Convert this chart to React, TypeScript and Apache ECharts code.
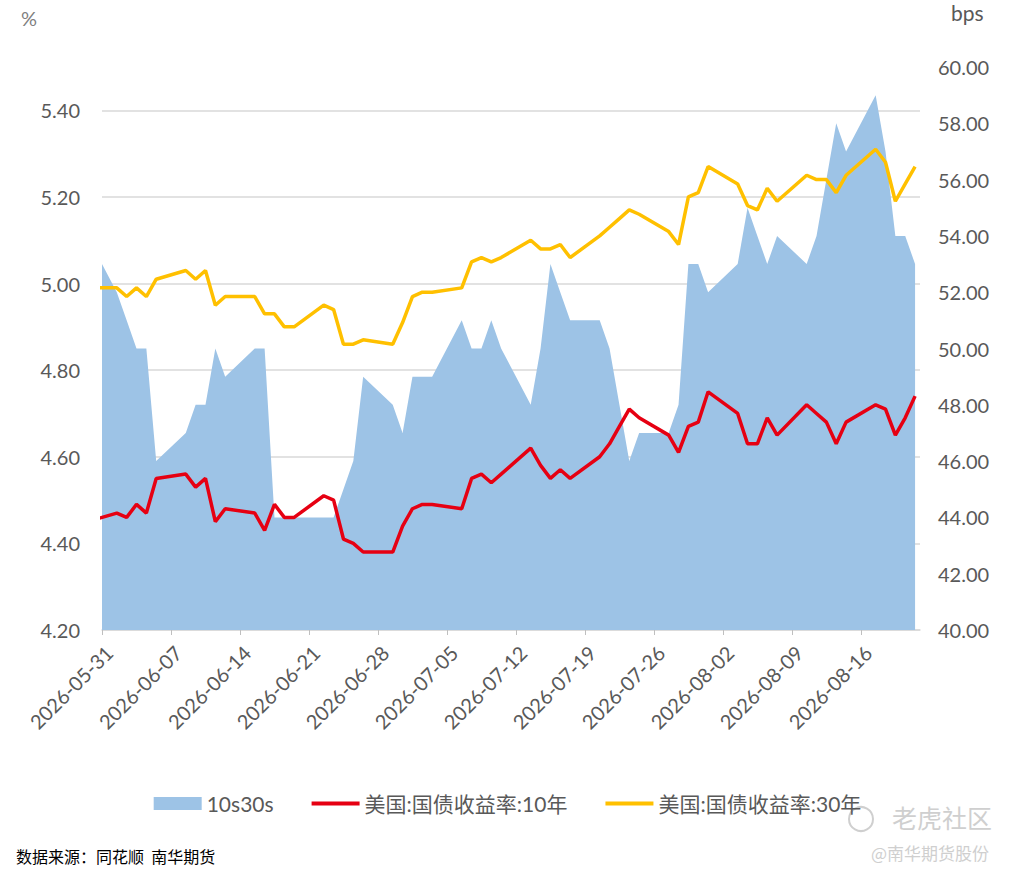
import React, { useEffect, useRef } from "react";
import * as echarts from "echarts";

const dates = [
  "2026-05-29",
  "2026-06-01", "2026-06-02", "2026-06-03", "2026-06-04", "2026-06-05",
  "2026-06-08", "2026-06-09", "2026-06-10", "2026-06-11", "2026-06-12",
  "2026-06-15", "2026-06-16", "2026-06-17", "2026-06-18", "2026-06-19",
  "2026-06-22", "2026-06-23", "2026-06-24", "2026-06-25", "2026-06-26",
  "2026-06-29", "2026-06-30", "2026-07-01", "2026-07-02", "2026-07-03",
  "2026-07-06", "2026-07-07", "2026-07-08", "2026-07-09", "2026-07-10",
  "2026-07-13", "2026-07-14", "2026-07-15", "2026-07-16", "2026-07-17",
  "2026-07-20", "2026-07-21", "2026-07-22", "2026-07-23", "2026-07-24",
  "2026-07-27", "2026-07-28", "2026-07-29", "2026-07-30", "2026-07-31",
  "2026-08-03", "2026-08-04", "2026-08-05", "2026-08-06", "2026-08-07",
  "2026-08-10", "2026-08-11", "2026-08-12", "2026-08-13", "2026-08-14",
  "2026-08-17", "2026-08-18", "2026-08-19", "2026-08-20", "2026-08-21",
];

const yield10 = [
  4.45,
  4.47, 4.46, 4.49, 4.47, 4.55,
  4.56, 4.53, 4.55, 4.45, 4.48,
  4.47, 4.43, 4.49, 4.46, 4.46,
  4.51, 4.50, 4.41, 4.40, 4.38,
  4.38, 4.44, 4.48, 4.49, 4.49,
  4.48, 4.55, 4.56, 4.54, 4.56,
  4.62, 4.58, 4.55, 4.57, 4.55,
  4.60, 4.63, 4.67, 4.71, 4.69,
  4.65, 4.61, 4.67, 4.68, 4.75,
  4.70, 4.63, 4.63, 4.69, 4.65,
  4.72, 4.70, 4.68, 4.63, 4.68,
  4.72, 4.71, 4.65, 4.69, 4.74,
];

const yield30 = [
  4.99,
  4.99, 4.97, 4.99, 4.97, 5.01,
  5.03, 5.01, 5.03, 4.95, 4.97,
  4.97, 4.93, 4.93, 4.90, 4.90,
  4.95, 4.94, 4.86, 4.86, 4.87,
  4.86, 4.91, 4.97, 4.98, 4.98,
  4.99, 5.05, 5.06, 5.05, 5.06,
  5.10, 5.08, 5.08, 5.09, 5.06,
  5.11, 5.13, 5.15, 5.17, 5.16,
  5.12, 5.09, 5.20, 5.21, 5.27,
  5.23, 5.18, 5.17, 5.22, 5.19,
  5.25, 5.24, 5.24, 5.21, 5.25,
  5.31, 5.28, 5.19, 5.23, 5.27,
];

const spread10s30s = [
  54,
  52, 51, 50, 50, 46,
  47, 48, 48, 50, 49,
  50, 50, 44, 44, 44,
  44, 44, 45, 46, 49,
  48, 47, 49, 49, 49,
  51, 50, 50, 51, 50,
  48, 50, 53, 52, 51,
  51, 50, 48, 46, 47,
  47, 48, 53, 53, 52,
  53, 55, 54, 53, 54,
  53, 54, 56, 58, 57,
  59, 57, 54, 54, 53,
];

const AXIS_START = "2026-05-31";
const AXIS_DAYS = 83;
const LABEL_STEP = 7;

const seriesNames = ["10s30s", "美国:国债收益率:10年", "美国:国债收益率:30年"];
const colors = { spread: "#9DC3E6", y10: "#E60012", y30: "#FFC000" };

const DAY = 86400000;
const baseMs = Date.parse(AXIS_START + "T00:00:00Z");
const slotCenter = (d: string) => (Date.parse(d + "T00:00:00Z") - baseMs) / DAY + 0.5;
const dayLabel = (v: number) => new Date(baseMs + Math.round(v) * DAY).toISOString().slice(0, 10);

const FONT = "Lato, 'Noto Sans CJK SC', sans-serif";
const GREY = "#595959";

export default function App() {
  const ref = useRef<HTMLDivElement>(null);

  useEffect(() => {
    document.body.style.margin = "0";
    if (!ref.current) return;
    const chart = echarts.init(ref.current, null, { renderer: "svg" });

    const pairs = (vals: number[]) => dates.map((d, i) => [slotCenter(d), vals[i]]);

    chart.setOption({
      animation: false,
      backgroundColor: "#ffffff",
      textStyle: { fontFamily: FONT },
      grid: { left: 102, right: 95, top: 67, bottom: 247, containLabel: false },
      legend: {
        top: 788,
        left: "center",
        itemWidth: 48,
        itemHeight: 13,
        itemGap: 36,
        textStyle: { fontSize: 21, color: GREY, fontFamily: FONT },
        data: [
          { name: seriesNames[0], icon: "rect" },
          { name: seriesNames[1], itemStyle: { opacity: 0 }, lineStyle: { width: 4 } },
          { name: seriesNames[2], itemStyle: { opacity: 0 }, lineStyle: { width: 4 } },
        ],
      },
      xAxis: {
        type: "value",
        min: 0,
        max: AXIS_DAYS,
        interval: LABEL_STEP,
        axisLine: { show: true, lineStyle: { color: "#D9D9D9", width: 1.5 } },
        axisTick: { show: true, length: 5, lineStyle: { color: "#BFBFBF" } },
        splitLine: { show: false },
        axisLabel: {
          rotate: 45,
          margin: 12,
          verticalAlign: "top",
          fontSize: 20,
          color: GREY,
          fontFamily: FONT,
          showMaxLabel: false,
          formatter: (v: number) => dayLabel(v),
        },
      },
      yAxis: [
        {
          type: "value",
          min: 4.2,
          max: 5.5,
          interval: 0.2,
          axisLine: { show: false },
          axisTick: { show: false },
          splitLine: {
            show: true,
            showMaxLine: false,
            lineStyle: { color: "#D9D9D9", width: 1.5 },
          },
          axisLabel: {
            margin: 22,
            fontSize: 20,
            color: GREY,
            fontFamily: FONT,
            showMaxLabel: false,
            formatter: (v: number) => v.toFixed(2),
          },
        },
        {
          type: "value",
          min: 40,
          max: 60,
          interval: 2,
          position: "right",
          axisLine: { show: false },
          axisTick: { show: false },
          splitLine: { show: false },
          axisLabel: {
            margin: 18,
            fontSize: 20,
            color: GREY,
            fontFamily: FONT,
            formatter: (v: number) => v.toFixed(2),
          },
        },
      ],
      series: [
        {
          name: seriesNames[0],
          type: "line",
          yAxisIndex: 1,
          data: pairs(spread10s30s),
          symbol: "none",
          lineStyle: { width: 0 },
          areaStyle: { color: colors.spread, opacity: 1 },
          itemStyle: { color: colors.spread },
          clip: true,
          z: 1,
        },
        {
          name: seriesNames[1],
          type: "line",
          yAxisIndex: 0,
          data: pairs(yield10),
          symbol: "none",
          lineStyle: { width: 3.5, color: colors.y10 },
          itemStyle: { color: colors.y10 },
          clip: true,
          z: 3,
        },
        {
          name: seriesNames[2],
          type: "line",
          yAxisIndex: 0,
          data: pairs(yield30),
          symbol: "none",
          lineStyle: { width: 3.5, color: colors.y30 },
          itemStyle: { color: colors.y30 },
          clip: true,
          z: 3,
        },
      ],
      graphic: [
        {
          type: "text",
          left: 21,
          top: 8,
          style: { text: "%", fontSize: 20, fill: "#7F7F7F", fontFamily: FONT },
        },
        {
          type: "text",
          left: 951,
          top: 2,
          style: { text: "bps", fontSize: 21, fill: GREY, fontFamily: FONT },
        },
        {
          type: "text",
          left: 16,
          top: 848,
          style: {
            text: "数据来源：同花顺  南华期货",
            fontSize: 16,
            fill: "#000000",
            fontFamily: "'Noto Sans CJK SC', sans-serif",
          },
        },
        {
          type: "circle",
          shape: { cx: 861, cy: 819, r: 12 },
          style: { fill: "none", stroke: "#CFCFCF", lineWidth: 2 },
        },
        {
          type: "text",
          left: 892,
          top: 804,
          style: {
            text: "老虎社区",
            fontSize: 25,
            fill: "#CFCFCF",
            fontFamily: "'Noto Sans CJK SC', sans-serif",
          },
        },
        {
          type: "text",
          left: 871,
          top: 844,
          style: {
            text: "@南华期货股份",
            fontSize: 17,
            fill: "#CFCFCF",
            fontFamily: "'Noto Sans CJK SC', sans-serif",
          },
        },
      ],
    });

    return () => chart.dispose();
  }, []);

  return <div ref={ref} style={{ width: 1015, height: 877 }} />;
}
